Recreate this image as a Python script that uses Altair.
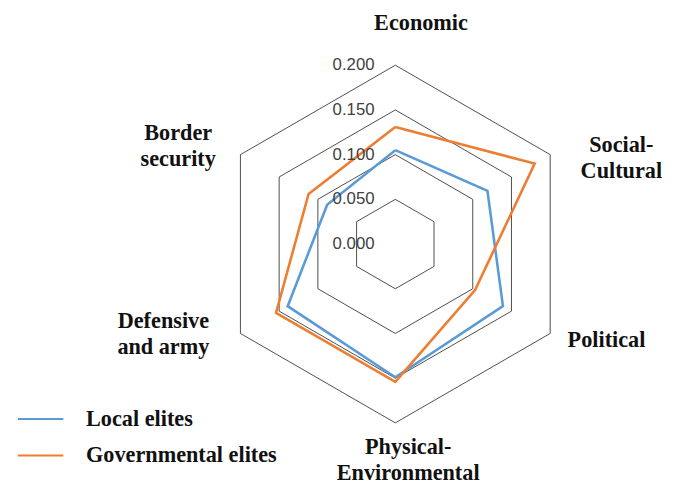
import altair as alt
import pandas as pd

# ---------------- data ----------------
categories = ["Economic", "Social-Cultural", "Political",
              "Physical-Environmental", "Defensive and army", "Border security"]
category_labels = ["Economic", "Social-\nCultural", "Political",
                   "Physical-\nEnvironmental", "Defensive\nand army", "Border\nsecurity"]
local_elites = [0.105, 0.119, 0.139, 0.149, 0.139, 0.088]
governmental_elites = [0.131, 0.180, 0.103, 0.154, 0.154, 0.112]
series_names = ["Local elites", "Governmental elites"]
series_colors = ["#5B9BD5", "#ED7D31"]
ring_values = [0.050, 0.100, 0.150, 0.200]
tick_values = [0.000, 0.050, 0.100, 0.150, 0.200]
tick_labels = ["0.000", "0.050", "0.100", "0.150", "0.200"]

# ---------------- tables ----------------
n = len(categories)
series_rows = []
for name, vals in zip(series_names, [local_elites, governmental_elites]):
    for i in range(n + 1):
        k = i % n
        series_rows.append({"series": name, "idx": k, "ord": i,
                            "category": categories[k], "value": vals[k]})
series_df = pd.DataFrame(series_rows)

grid_rows = []
for r in ring_values:
    for i in range(n + 1):
        grid_rows.append({"ring": r, "idx": i % n, "ord": i, "value": r})
grid_df = pd.DataFrame(grid_rows)

tick_df = pd.DataFrame({"value": tick_values, "label": tick_labels, "idx": 0})
label_df = pd.DataFrame({"idx": list(range(n)), "label": category_labels,
                         "value": [max(ring_values)] * n})

S = 905  # pixels per unit of value
XS = alt.Scale(domain=[-392, 276])
YS = alt.Scale(domain=[-244, 236])


def polar(ch):
    return ch.transform_calculate(
        ang="PI/2 - datum.idx*PI/3",
    ).transform_calculate(
        px=f"datum.value*{S}*cos(datum.ang)",
        py=f"datum.value*{S}*sin(datum.ang)",
    )


grid = polar(alt.Chart(grid_df)).mark_line(
    color="#3a3a3a", strokeWidth=0.9
).encode(
    x=alt.X("px:Q", scale=XS, axis=None),
    y=alt.Y("py:Q", scale=YS, axis=None),
    detail="ring:N",
    order="ord:Q",
)

lines = polar(alt.Chart(series_df)).mark_line(strokeWidth=2.6).encode(
    x=alt.X("px:Q", scale=XS, axis=None),
    y=alt.Y("py:Q", scale=YS, axis=None),
    color=alt.Color(
        "series:N",
        scale=alt.Scale(domain=series_names, range=series_colors),
        sort=series_names,
        legend=alt.Legend(
            title=None, orient="none", legendX=9, legendY=389,
            symbolType="stroke", symbolSize=2116, symbolStrokeWidth=2,
            labelFont="Liberation Serif", labelFontWeight="bold",
            labelFontSize=22.5, labelColor="#111111", labelOffset=22,
            rowPadding=1, padding=0, labelLimit=400,
        ),
    ),
    order="ord:Q",
)

ticks = polar(alt.Chart(tick_df)).mark_text(
    align="right", baseline="middle", dx=-21,
    font="Liberation Sans", fontSize=17, color="#404040",
).encode(
    x=alt.X("px:Q", scale=XS, axis=None),
    y=alt.Y("py:Q", scale=YS, axis=None),
    text="label:N",
)

# per-label nudges from the outer vertex (dx, dy in pixels, to first line)
nudges = [(26, -43), (72, -10), (57, 7), (13, 24), (-78, -13), (-63, -22)]
label_layers = []
for k, (dx, dy) in enumerate(nudges):
    label_layers.append(
        polar(alt.Chart(label_df).transform_filter(f"datum.idx == {k}")).mark_text(
            align="center", baseline="middle", dx=dx, dy=dy,
            lineBreak="\n", lineHeight=27,
            font="Liberation Serif", fontWeight="bold", fontSize=22.5,
            color="#111111",
        ).encode(
            x=alt.X("px:Q", scale=XS, axis=None),
            y=alt.Y("py:Q", scale=YS, axis=None),
            text="label:N",
        )
    )

chart = alt.layer(grid, lines, ticks, *label_layers).properties(
    width=668, height=480, padding=0,
    autosize=alt.AutoSizeParams(type="none"),
    background="white",
).configure_view(stroke=None)

chart.save("out.html", embed_options={"renderer": "svg", "actions": False})
